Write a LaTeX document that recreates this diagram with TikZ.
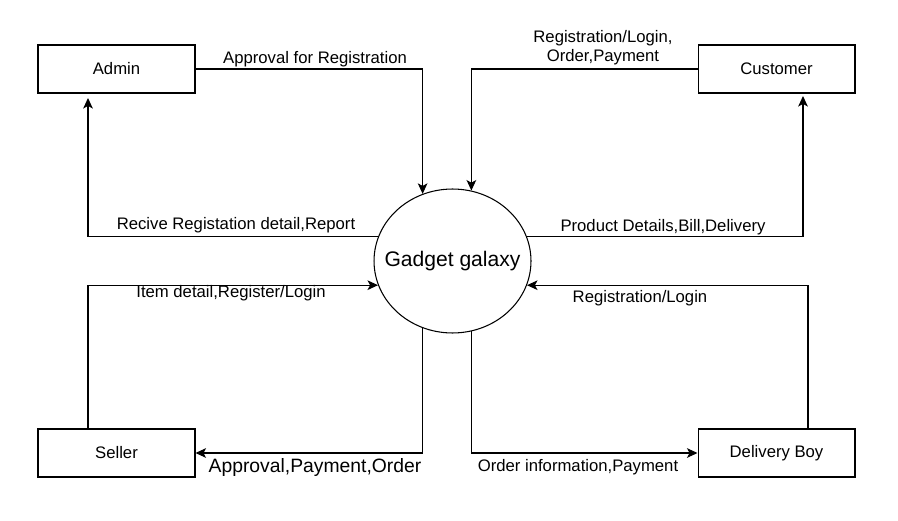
\documentclass[tikz,border=0pt]{standalone}
\usepackage{fontspec}
\setmainfont{Liberation Sans}
\usetikzlibrary{arrows.meta,shapes.geometric,calc}
\definecolor{colorLine}{HTML}{000000}
\def\colorLine{colorLine}

\begin{document}
\begin{tikzpicture}[x=0.02cm, y=-0.02cm,
  entity/.style={draw, line width=0.6pt, minimum width=3.14cm, minimum height=0.96cm,
    font=\fontsize{9.5pt}{11pt}\selectfont},
  process/.style={draw, ellipse, line width=0.6pt, minimum width=3.14cm, minimum height=2.88cm,
    inner sep=0pt},
  flow/.style={draw=\colorLine, line width=0.6pt, -{Stealth[length=6pt,width=5.5pt,inset=1.5pt]}},
  lbl/.style={font=\fontsize{9.5pt}{11pt}\selectfont, inner sep=1pt, align=center}]

  \useasboundingbox (0,0) rectangle (898,520);

  % entities
  \node[entity] (admin) at (116.5,69) {Admin};
  \node[entity] (customer) at (776.5,69) {Customer};
  \node[entity] (seller) at (116.5,453) {Seller};
  \node[entity] (delivery) at (776.5,453) {Delivery Boy};

  % central process (text as a label so the ellipse keeps its size)
  \node[process, label={[font=\fontsize{12pt}{14pt}\selectfont]center:Gadget galaxy}] (gadget) at (452.5,261) {};

  % free ends of the flows
  \coordinate (adminIn) at (88,98);
  \coordinate (customerIn) at (803,96);
  \coordinate (sellerOut) at (88,429);
  \coordinate (deliveryOut) at (808,429);

  % flows
  \draw[flow] (admin.east) -| (gadget.114);
  \draw[flow] (customer.west) -| (gadget.75);
  \draw[flow] (gadget.162) -| (adminIn);
  \draw[flow] (gadget.18) -| (customerIn);
  \draw[flow] (sellerOut) |- (gadget.198);
  \draw[flow] (deliveryOut) |- (gadget.342);
  \draw[flow] (gadget.246) |- (seller.east);
  \draw[flow] (gadget.285) |- (delivery.west);

  % labels
  \node[lbl] (lAdmin) at (315,59) {Approval for Registration};
  \node[lbl] (lCustomer) at (603,48) {Registration/Login,\\Order,Payment};
  \node[lbl] (lReport) at (236,225) {Recive Registation detail,Report};
  \node[lbl] (lProduct) at (663,227) {Product Details,Bill,Delivery};
  \node[lbl] (lItem) at (231,293) {Item detail,Register/Login};
  \node[lbl] (lRegister) at (640,298) {Registration/Login};
  \node[lbl, font=\fontsize{11pt}{13pt}\selectfont] (lSeller) at (315,467) {Approval,Payment,Order};
  \node[lbl] (lDelivery) at (578,467) {Order information,Payment};

\end{tikzpicture}
\end{document}
